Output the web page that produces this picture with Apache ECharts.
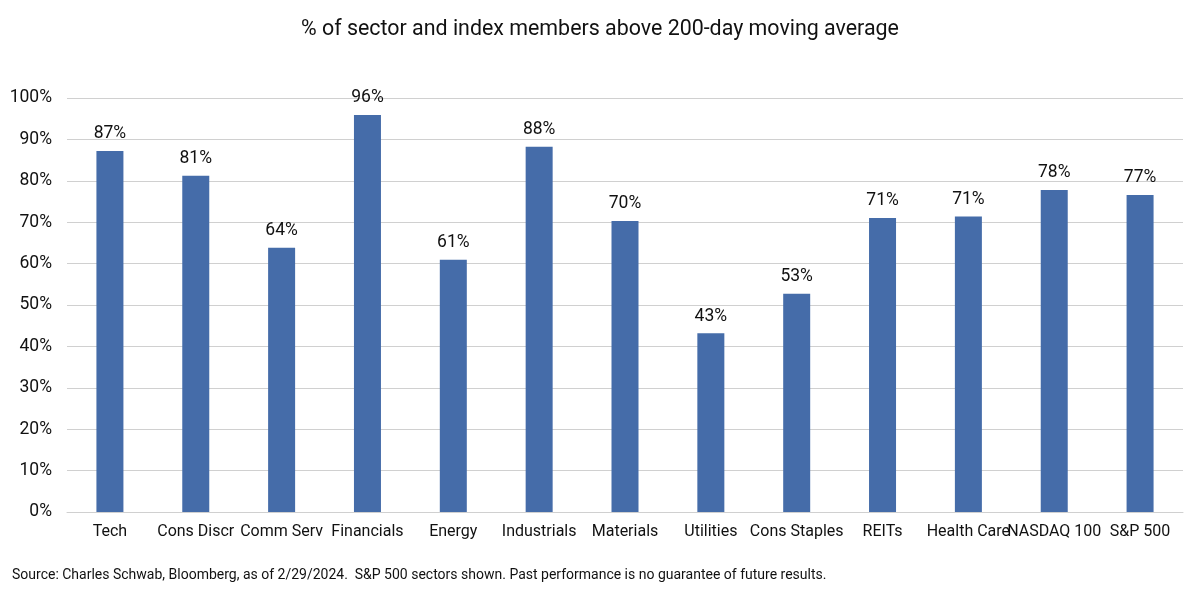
<!DOCTYPE html>
<html>
<head>
<meta charset="utf-8">
<script src="https://cdn.jsdelivr.net/npm/echarts@6/dist/echarts.min.js"></script>
<style>
html,body{margin:0;padding:0;background:#fff;}
#chart{width:1200px;height:589px;}
</style>
</head>
<body>
<div id="chart"></div>
<script>
const categories = ['Tech','Cons Discr','Comm Serv','Financials','Energy','Industrials','Materials','Utilities','Cons Staples','REITs','Health Care','NASDAQ 100','S&P 500'];
const values = [87.2, 81.2, 63.8, 95.9, 60.9, 88.2, 70.3, 43.2, 52.7, 71.0, 71.4, 77.8, 76.6];
const yTicks = [0,10,20,30,40,50,60,70,80,90,100];
const titleText = '% of sector and index members above 200-day moving average';
const sourceText = 'Source: Charles Schwab, Bloomberg, as of 2/29/2024.  S&P 500 sectors shown. Past performance is no guarantee of future results.';

const chart = echarts.init(document.getElementById('chart'), null, {renderer:'canvas'});
const font = 'Roboto';
chart.setOption({
  backgroundColor:'#fff',
  animation:false,
  textStyle:{fontFamily:font},
  title:{
    text:titleText, left:'center', top:14,
    textStyle:{fontFamily:font, fontSize:21.4, fontWeight:'normal', color:'#111'}
  },
  graphic:[{
    type:'text', left:12, top:568,
    style:{text:sourceText, fontFamily:font, fontSize:14, fill:'#111'}
  }],
  grid:{left:67, right:17, top:98, bottom:77},
  xAxis:{
    type:'category', data:categories,
    axisLine:{lineStyle:{color:'#d0d0d0'}},
    axisTick:{show:false},
    axisLabel:{color:'#111', fontSize:16, margin:12, interval:0, fontFamily:font}
  },
  yAxis:{
    type:'value', min:yTicks[0], max:yTicks[yTicks.length-1], interval:10,
    axisLine:{show:false}, axisTick:{show:false},
    splitLine:{lineStyle:{color:'#d0d0d0'}},
    axisLabel:{color:'#111', fontSize:17.5, margin:15, formatter:v=>v+'%', fontFamily:font}
  },
  series:[{
    type:'bar', data:values, barWidth:27,
    itemStyle:{color:'#456CA9'},
    label:{show:true, position:'top', distance:8, fontSize:17.5, color:'#111', fontFamily:font,
      formatter:p=>Math.round(p.value)+'%'}
  }]
});
</script>
</body>
</html>
